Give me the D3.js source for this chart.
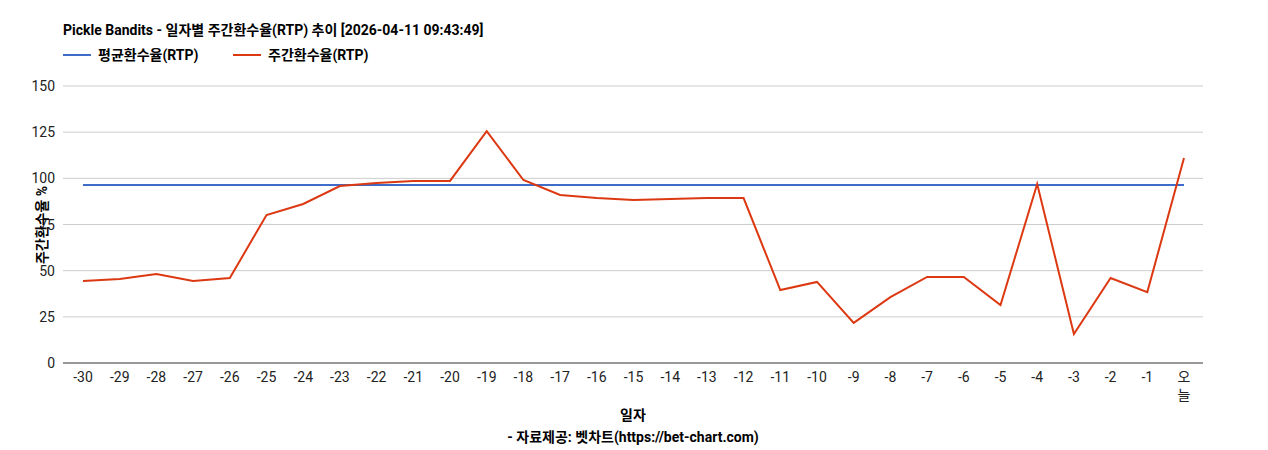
<!DOCTYPE html><html><head><meta charset="utf-8"><script src="https://cdn.jsdelivr.net/npm/d3@7"></script>
<style>body{margin:0;background:#fff;font-family:Roboto,"Noto Sans CJK KR",sans-serif}</style></head><body><svg id="c" width="1268" height="450"></svg>
<script>
const categories=["-30","-29","-28","-27","-26","-25","-24","-23","-22","-21","-20","-19","-18","-17","-16","-15","-14","-13","-12","-11","-10","-9","-8","-7","-6","-5","-4","-3","-2","-1","오늘"];
const weeklyRTP=[44.4,45.5,48.2,44.4,46,80.1,86.1,95.8,97.5,98.6,98.6,125.6,99.1,91,89.3,88.3,88.8,89.3,89.3,39.5,43.9,21.7,35.7,46.6,46.6,31.4,96.9,15.7,46,38.4,111];
const avgRTP=96.4;
const yTicks=[0,25,50,75,100,125,150];
const svg=d3.select("#c"),F='Roboto,"Noto Sans CJK KR",sans-serif';
const L=63,R=1203,T=86,B=363;
const x=d3.scalePoint().domain(categories).range([83,1184]);
const y=d3.scaleLinear().domain([0,150]).range([B,T]);
svg.append("g").selectAll("line").data(yTicks).join("line").attr("x1",L).attr("x2",R).attr("y1",d=>y(d)).attr("y2",d=>y(d)).attr("stroke",d=>d===0?"#333":"#ccc");
svg.append("g").selectAll("text").data(yTicks).join("text").attr("x",55).attr("y",d=>y(d)+5).attr("text-anchor","end").attr("font-size",14).attr("font-family",F).attr("fill","#222").text(d=>d);
const xl=svg.append("g").selectAll("text").data(categories).join("text").attr("x",d=>x(d)).attr("y",382).attr("text-anchor","middle").attr("font-size",14).attr("font-family",F).attr("fill","#222");
xl.each(function(d){const t=d3.select(this);if(d.length===2&&!d.startsWith("-")){t.append("tspan").attr("x",x(d)).text(d[0]);t.append("tspan").attr("x",x(d)).attr("dy",18).text(d[1]);}else t.text(d);});
svg.append("line").attr("x1",x(categories[0])).attr("x2",x(categories[30])).attr("y1",y(avgRTP)).attr("y2",y(avgRTP)).attr("stroke","#3d6cc9").attr("stroke-width",2);
svg.append("path").datum(weeklyRTP).attr("d",d3.line().x((d,i)=>x(categories[i])).y(d=>y(d))).attr("fill","none").attr("stroke","#dc3912").attr("stroke-width",2);
svg.append("text").attr("x",63).attr("y",35).attr("font-size",14).attr("font-weight","bold").attr("font-family",F).text("Pickle Bandits - 일자별 주간환수율(RTP) 추이 [2026-04-11 09:43:49]");
const lg=[["평균환수율(RTP)","#3d6cc9",63],["주간환수율(RTP)","#dc3912",233]];
lg.forEach(([t,c,lx])=>{svg.append("line").attr("x1",lx).attr("x2",lx+28).attr("y1",55).attr("y2",55).attr("stroke",c).attr("stroke-width",2);
svg.append("text").attr("x",lx+35).attr("y",60).attr("font-size",14).attr("font-weight","bold").attr("font-family",F).text(t);});
svg.append("text").attr("transform","translate(47,225) rotate(-90)").attr("text-anchor","middle").attr("font-size",14).attr("font-weight","bold").attr("font-family",F).text("주간환수율 %");
svg.append("text").attr("x",633).attr("y",420).attr("text-anchor","middle").attr("font-size",14).attr("font-weight","bold").attr("font-family",F).text("일자");
svg.append("text").attr("x",633).attr("y",442).attr("text-anchor","middle").attr("font-size",14).attr("font-weight","bold").attr("font-family",F).text("- 자료제공: 벳차트(https://bet-chart.com)");
</script></body></html>
